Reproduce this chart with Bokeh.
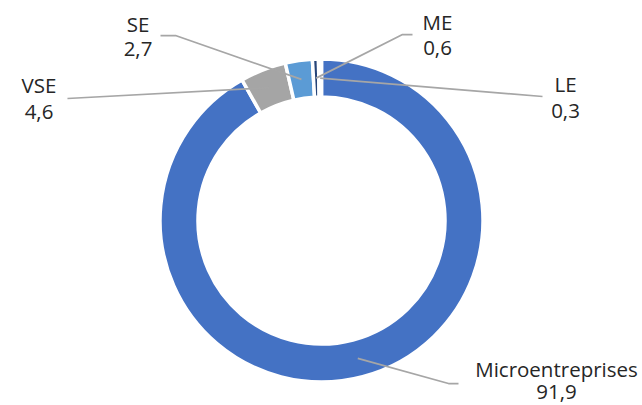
import math
from bokeh.plotting import figure
from bokeh.models import Range1d, ColumnDataSource
from bokeh.core.properties import value
from bokeh.embed import file_html
from bokeh.resources import INLINE

# ---- data ----
categories = ["Microentreprises", "VSE", "SE", "ME", "LE"]
shares = [91.9, 4.6, 2.7, 0.6, 0.3]
value_labels = ["91,9", "4,6", "2,7", "0,6", "0,3"]
colors = ["#4472C4", "#A5A5A5", "#5B9BD5", "#264478", "#1F3864"]

# ---- layout (pixel positions of the reference picture) ----
W, H = 642, 405
CXR, CYR = 321, 220          # donut centre in reference pixels
R_OUT, R_IN = 161.5, 123.5
TXT_SHIFT = 9                # text rendering offset correction

label_cx = {"Microentreprises": 556, "VSE": 38.5, "SE": 137.5, "ME": 437, "LE": 565}
label_base = {"Microentreprises": (377, 400), "VSE": (93, 120), "SE": (32, 57),
              "ME": (30, 56), "LE": (92, 119)}
leader_pts = {
    "Microentreprises": [(458, 383), (448, 383)],
    "VSE": [(67, 98)],
    "SE": [(160, 35), (175, 35)],
    "ME": [(412, 34), (402, 34)],
    "LE": [(542, 96)],
}


def X(xr):
    return xr - CXR


def Y(yr):
    return CYR - yr


p = figure(width=W, height=H,
           x_range=Range1d(-CXR, W - CXR),
           y_range=Range1d(-(H - CYR), CYR),
           output_backend="svg", toolbar_location=None, min_border=0)
p.axis.visible = False
p.grid.visible = False
p.outline_line_color = None
p.background_fill_color = "white"
p.border_fill_color = "white"

total = sum(shares)
starts, ends, mids = [], [], []
cum = 0.0
for s in shares:
    a0 = math.pi / 2 - 2 * math.pi * cum / total
    cum += s
    a1 = math.pi / 2 - 2 * math.pi * cum / total
    starts.append(a1)
    ends.append(a0)
    mids.append((a0 + a1) / 2)

src = ColumnDataSource(dict(start=starts, end=ends, color=colors, cat=categories))
p.annular_wedge(x=0, y=0, inner_radius=R_IN, outer_radius=R_OUT,
                start_angle="start", end_angle="end", direction="anticlock",
                fill_color="color", line_color="white", line_width=3.5, source=src)

# leader lines
r_mid = (R_IN + R_OUT) / 2
xs, ys = [], []
for cat, m in zip(categories, mids):
    pts = leader_pts[cat]
    lx = [X(a) for a, b in pts] + [r_mid * math.cos(m)]
    ly = [Y(b) for a, b in pts] + [r_mid * math.sin(m)]
    xs.append(lx)
    ys.append(ly)
p.multi_line(xs=xs, ys=ys, line_color="#A6A6A6", line_width=1.75)

# labels
tx, ty, tt = [], [], []
for cat, v in zip(categories, value_labels):
    b1, b2 = label_base[cat]
    tx += [X(label_cx[cat]), X(label_cx[cat])]
    ty += [Y(b1 - TXT_SHIFT), Y(b2 - TXT_SHIFT)]
    tt += [cat, v]
p.text(x=tx, y=ty, text=tt, text_align="center", text_baseline="alphabetic",
       text_font=value("Open Sans"), text_font_size="20.5px", text_color="#262626")

open("out.html", "w").write(file_html(p, INLINE))
